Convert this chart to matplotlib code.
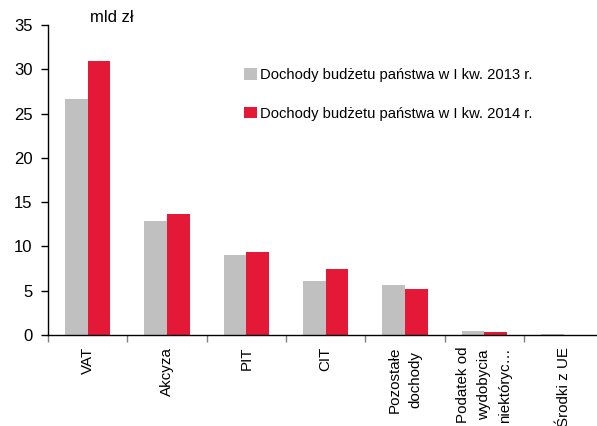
import matplotlib
matplotlib.use("Agg")
import matplotlib.pyplot as plt
import numpy as np
from matplotlib.patches import Patch
from matplotlib.ticker import FixedLocator

plt.rcParams['font.family'] = ['Liberation Sans', 'DejaVu Sans']

categories = ["VAT", "Akcyza", "PIT", "CIT", "Pozostałe\ndochody",
              "Podatek od\nwydobycia\nniektóryc…", "Środki z UE"]
values_2013 = [26.6, 12.9, 9.05, 6.15, 5.7, 0.5, 0.12]
values_2014 = [30.9, 13.7, 9.4, 7.4, 5.2, 0.3, 0.0]
series_labels = ["Dochody budżetu państwa w I kw. 2013 r.",
                 "Dochody budżetu państwa w I kw. 2014 r."]
yticks = [0, 5, 10, 15, 20, 25, 30, 35]
unit_label = "mld zł"

gray = "#C0C0C0"
red = "#E31937"

fig = plt.figure(figsize=(5.97, 4.26), dpi=100)
ax = fig.add_axes([48/597, 1-335/426, 1-48/597, 310/426])

x = np.arange(len(categories))
w = 0.285
ax.bar(x - w/2, values_2013, width=w, color=gray, linewidth=0)
ax.bar(x + w/2, values_2014, width=w, color=red, linewidth=0)

ax.set_xlim(-0.5, 6.42)
ax.set_ylim(0, 35)
ax.set_yticks(yticks)
ax.tick_params(axis='y', direction='out', length=5, width=1, labelsize=12, pad=6, color='#000000')
ax.xaxis.set_major_locator(FixedLocator(np.arange(len(categories) + 1) - 0.5))
ax.xaxis.set_minor_locator(FixedLocator(x))
ax.set_xticklabels([])
ax.set_xticklabels(categories, minor=True, rotation=90, fontsize=10.9, va='top', ha='center',
                   multialignment='center')
for t in ax.get_xticklabels(minor=True):
    t.set_linespacing(1.65)
ax.tick_params(axis='x', which='major', direction='out', length=5, width=1, color='#808080')
ax.tick_params(axis='x', which='minor', length=0, pad=8.5)

for s in ['top', 'right']:
    ax.spines[s].set_visible(False)
ax.spines['left'].set_linewidth(1)
ax.spines['bottom'].set_linewidth(1)

fig.text(90/597, 1-18/426, unit_label, fontsize=12, va='center', ha='left')

handles = [Patch(facecolor=gray, edgecolor='none'), Patch(facecolor=red, edgecolor='none')]
fig.legend(handles, series_labels, loc='upper left', bbox_to_anchor=(231/597, 1-55/426),
           frameon=False, fontsize=10.6, handlelength=0.85, handleheight=0.85,
           handletextpad=0.25, labelspacing=1.65)

fig.savefig("out.png", dpi=100)
